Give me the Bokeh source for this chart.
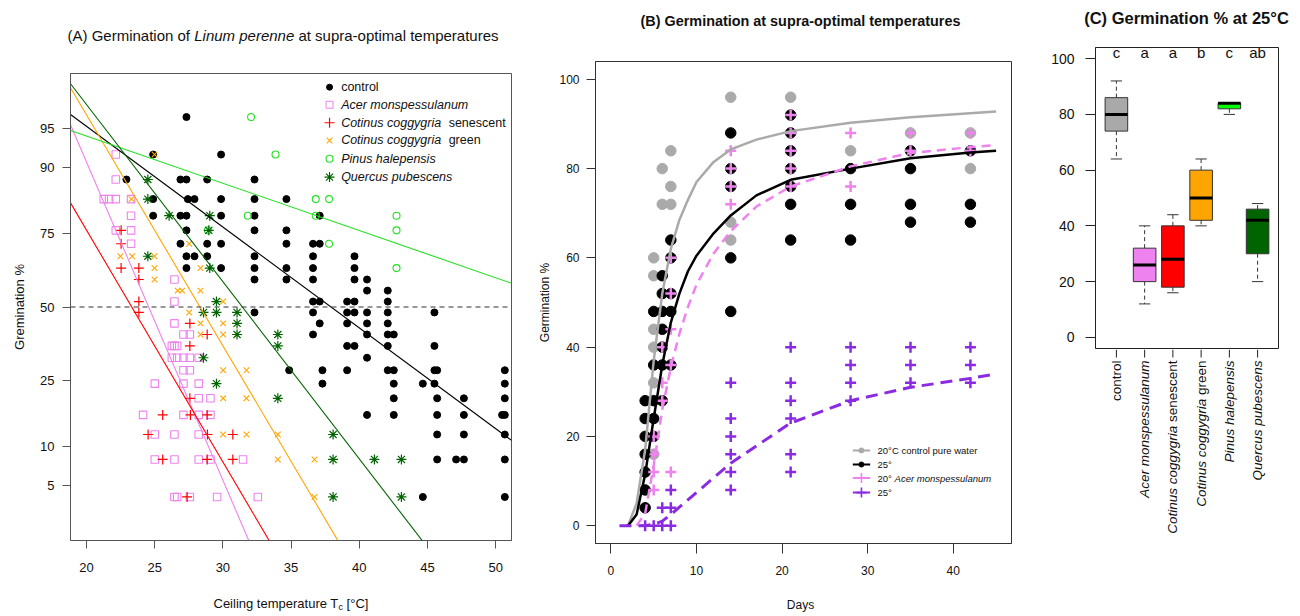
import math
from statistics import NormalDist
from bokeh.plotting import figure
from bokeh.layouts import row, column
from bokeh.models import Label, FixedTicker, Span, Range1d
from bokeh.embed import file_html
from bokeh.resources import INLINE

FONT = "Liberation Sans"
_nd = NormalDist()


def probit(p):
    return _nd.inv_cdf(p / 100.0)


# ======================= Panel A data =======================
# germination % : ceiling temperatures (deg C)
ctrl_rows = {
    96: [27.33], 92: [24.89, 29.87],
    88: [22.93, 26.89, 27.33, 28.85, 32.32],
    84: [24.89, 27.43, 27.92, 29.87, 32.32, 34.66],
    80: [24.89, 26.89, 27.33, 29.87, 32.32, 37.10],
    76: [27.33, 32.32, 34.66],
    72: [26.89, 28.85, 29.87, 34.66, 36.61, 37.10],
    68: [27.33, 27.92, 28.85, 32.32, 36.61, 39.65],
    64: [27.33, 29.87, 32.32, 34.66, 36.61, 39.65],
    60: [32.32, 34.66, 36.61, 39.65, 40.57],
    56: [40.57, 42.09],
    52: [36.61, 37.10, 39.11, 39.65, 42.09],
    48: [32.32, 36.61, 39.11, 39.65, 40.57, 42.09, 45.51],
    44: [37.10, 39.11, 40.57, 42.09],
    40: [36.61, 40.57, 42.09, 42.53],
    36: [39.11, 39.65, 42.09, 45.51],
    32: [40.57],
    28: [34.86, 37.30, 39.11, 42.09, 42.53, 45.51, 45.71, 50.67],
    24: [37.30, 42.53, 44.66, 45.51, 50.67],
    20: [42.53, 45.71, 47.67, 50.67],
    16: [40.57, 42.53, 45.71, 47.67, 50.47, 50.67],
    12: [45.71, 47.67, 50.67],
    8: [45.71, 47.10, 47.67, 50.67],
    4: [44.66, 50.67],
}
acer_rows = {
    92: [22.15], 88: [22.15], 84: [21.27, 21.66, 22.15, 23.27], 80: [23.27],
    76: [22.15, 23.27], 72: [23.27], 60: [26.45], 52: [26.45], 44: [26.45],
    40: [27.11, 27.58], 36: [26.26, 26.45, 26.65],
    32: [26.26, 26.65, 27.11, 27.58, 28.23], 28: [27.11, 27.58],
    24: [25.01, 27.11, 28.23], 20: [28.23, 29.09],
    16: [24.15, 27.11, 28.23, 29.09], 12: [25.01, 26.45, 28.23],
    8: [25.01, 26.45, 28.23, 29.09, 31.48],
    4: [26.45, 26.65, 27.58, 29.58, 32.56],
}
cotsen_rows = {
    76: [22.54], 72: [22.54], 64: [22.54, 23.84], 60: [23.84], 52: [23.84],
    48: [23.84], 44: [27.58], 40: [28.85], 36: [27.58], 20: [27.58],
    16: [25.59, 27.62, 28.85], 12: [24.52, 28.87, 30.73],
    8: [25.59, 28.85, 30.73], 4: [27.38],
}
cotgreen_rows = {
    92: [24.99], 84: [23.30], 72: [27.53], 68: [22.49, 23.35, 24.99],
    64: [24.99, 28.36], 60: [24.99], 56: [26.69, 27.01, 28.36], 52: [30.02],
    48: [27.53], 44: [28.36, 30.02], 40: [28.36, 30.02], 28: [30.02, 31.73],
    20: [30.02, 31.73], 12: [30.02, 31.73, 34.03], 8: [34.03, 36.72], 4: [36.72],
}
pinus_rows = {
    96: [32.07], 92: [33.86], 84: [36.81, 37.79], 80: [31.83, 36.81, 42.73],
    76: [28.90, 42.73], 72: [37.79], 64: [42.73],
}
quercus_rows = {
    88: [24.50], 84: [24.50], 80: [26.06, 29.04], 76: [28.97], 68: [24.50],
    64: [29.04], 52: [29.53], 48: [28.58, 29.53, 31.04], 44: [31.04],
    40: [31.04, 34.03], 36: [34.03], 32: [28.58], 24: [29.53], 20: [34.03],
    12: [38.08], 8: [38.08, 41.11, 43.09], 4: [38.08, 43.09],
}
# probit regression lines: temperature at 50 % and slope (probit units / deg C)
line_t50 = [37.93, 24.56, 23.32, 28.32, 56.19, 31.43]
line_slope = [-0.0929, -0.2933, -0.2137, -0.2129, -0.04355, -0.1633]
a_colors = ["#000000", "#EE82EE", "#FF0000", "#FFA500", "#22E022", "#006400"]
a_ticks_pct = [5, 10, 25, 50, 75, 90, 95]
a_xticks = [20, 25, 30, 35, 40, 45, 50]

# ======================= Panel B data =======================
gray_pts = {5: [60, 56, 44, 40, 32, 16], 6: [80, 72], 7: [84, 76, 72],
            14: [96, 68, 64], 21: [96], 28: [84], 35: [88], 42: [88, 80]}
black_pts = {4: [28, 24, 20, 16, 12, 8, 4], 5: [48, 36, 28, 24, 20],
             6: [56, 52, 48, 44, 40, 36, 28], 7: [64, 60, 52, 48, 36],
             14: [88, 80, 76, 60, 48], 21: [92, 88, 84, 80, 76, 72, 64],
             28: [80, 72, 64], 35: [84, 80, 72, 68], 42: [84, 72, 68]}
pink_pts = {5: [20, 16, 12, 8], 6: [40, 32, 28], 7: [60, 52, 44, 36, 12],
            14: [84, 80, 76, 72], 21: [92, 88, 84, 80, 76], 28: [88, 76],
            35: [88, 84], 42: [88, 84]}
purple_pts = {4: [0], 5: [0], 6: [4, 0], 7: [8, 4, 0],
              14: [32, 24, 20, 16, 12, 8], 21: [40, 32, 28, 24, 16, 12],
              28: [40, 36, 32, 28], 35: [40, 36, 32], 42: [40, 36, 32]}

gray_curve_day = [2, 3, 4, 5, 6, 7, 8, 9, 10, 12, 14, 17, 21, 28, 35, 45]
gray_curve_val = [0, 5, 17, 37, 52, 62, 68.5, 73, 77, 81.5, 84.3, 86.5, 88.4, 90.3, 91.5, 92.8]
black_curve_day = [2, 3, 4, 5, 6, 7, 8, 9, 10, 12, 14, 17, 21, 28, 35, 42, 45]
black_curve_val = [0, 2.5, 11.5, 24, 36, 45.5, 52, 57, 60.5, 65.5, 69.5, 74, 77.5, 80, 82.3, 83.6, 84]
pink_curve_day = [3, 4, 5, 6, 7, 8, 9, 10, 12, 14, 17, 21, 28, 35, 42, 45]
pink_curve_val = [0, 2.7, 13.5, 26, 35.5, 43, 49, 54, 61, 66, 71.5, 76, 80.5, 83.5, 84.8, 85.3]
purple_curve_day = [1, 4, 5, 6, 7, 14, 21, 28, 35, 42, 45]
purple_curve_val = [0, 0, 0.3, 1, 2.5, 14, 23, 28, 31, 33, 34]
b_xticks = [0, 10, 20, 30, 40]
b_yticks = [0, 20, 40, 60, 80, 100]

# ======================= Panel C data =======================
box_pos = [1, 2, 3, 4, 5, 6]
box_lo = [64, 12, 16, 40, 80, 20]
box_q1 = [74, 20, 18, 42, 82, 30]
box_med = [80, 26, 28, 50, 84, 42]
box_q3 = [86, 32, 40, 60, 84, 46]
box_hi = [92, 40, 44, 64, 84, 48]
box_colors = ["#A9A9A9", "#EE82EE", "#FF0000", "#FFA500", "#00FF00", "#006400"]
box_letters = ["c", "a", "a", "b", "c", "ab"]
c_yticks = [0, 20, 40, 60, 80, 100]


def flat_rows(rows):
    xs, ys = [], []
    for g, ts in rows.items():
        for t in ts:
            xs.append(t)
            ys.append(probit(g))
    return xs, ys


def flat_pts(pts):
    xs, ys = [], []
    for d, vs in pts.items():
        for v in vs:
            xs.append(d)
            ys.append(v)
    return xs, ys


def no_align(p):
    try:
        p.frame_align = False
    except Exception:
        pass


def style(p, outline, tick_font, tick_out):
    p.xgrid.visible = False
    p.ygrid.visible = False
    p.outline_line_color = outline
    p.outline_line_width = 1
    p.background_fill_color = "white"
    p.border_fill_color = "white"
    for ax in list(p.xaxis) + list(p.yaxis):
        ax.axis_line_color = outline
        ax.major_tick_line_color = outline
        ax.major_tick_out = tick_out
        ax.major_tick_in = 0
        ax.minor_tick_line_color = None
        ax.major_label_text_font = FONT
        ax.major_label_text_font_size = tick_font
        ax.major_label_text_color = "#111111"
        ax.axis_label_text_font = FONT
        ax.axis_label_text_font_style = "normal"
        ax.axis_label_text_color = "#111111"
    no_align(p)


def text_fig(w, h):
    f = figure(frame_width=w, frame_height=h, min_border=0, min_border_left=0,
               min_border_right=0, min_border_top=0, min_border_bottom=0,
               x_range=Range1d(0, w), y_range=Range1d(0, h), x_axis_location=None,
               y_axis_location=None, output_backend="svg", toolbar_location=None, title=None)
    f.grid.visible = False
    f.outline_line_color = None
    no_align(f)
    return f


def lab(p, x, y, text, size, style_="normal", align="left", baseline="middle",
        angle=0.0, x_offset=0, color="#111111"):
    p.add_layout(Label(x=x, y=y, text=text, text_font=FONT,
                       text_font_size=f"{size}px", text_font_style=style_,
                       text_align=align, text_baseline=baseline, angle=angle,
                       x_offset=x_offset, text_color=color))


# ======================= Panel A =======================
AX0, AX1 = 18.83, 51.16
pA = figure(frame_width=441, frame_height=467, min_border_left=70, min_border_right=24,
            min_border_top=5, min_border_bottom=40, x_range=Range1d(AX0, AX1),
            y_range=Range1d(-2.152, 2.152), output_backend="svg", toolbar_location=None)
style(pA, "#555555", "13px", 8)
pA.xaxis[0].ticker = FixedTicker(ticks=a_xticks)
pA.xaxis[0].major_label_standoff = 14
ytk = [probit(v) for v in a_ticks_pct]
pA.yaxis[0].ticker = FixedTicker(ticks=ytk)
pA.yaxis[0].major_label_overrides = {t: str(v) for t, v in zip(ytk, a_ticks_pct)}
pA.yaxis[0].major_label_standoff = 8
pA.yaxis[0].axis_label = "Gremination %"
pA.yaxis[0].axis_label_text_font_size = "13px"
pA.yaxis[0].axis_label_standoff = 10

pA.add_layout(Span(location=0, dimension="width", line_color="#333333",
                   line_dash="5 4", line_width=1))

x, y = flat_rows(ctrl_rows)
pA.scatter(x, y, marker="circle", size=7, fill_color="black", line_color="black")
x, y = flat_rows(acer_rows)
pA.scatter(x, y, marker="square", size=7.5, fill_alpha=0, line_color="#EE82EE", line_width=1.1)
x, y = flat_rows(cotsen_rows)
pA.scatter(x, y, marker="cross", size=10, line_color="#FF0000", line_width=1.2)
x, y = flat_rows(cotgreen_rows)
pA.scatter(x, y, marker="x", size=8, line_color="#FFA500", line_width=1.1)
x, y = flat_rows(pinus_rows)
pA.scatter(x, y, marker="circle", size=7, fill_alpha=0, line_color="#22E022", line_width=1.1)
x, y = flat_rows(quercus_rows)
pA.scatter(x, y, marker="asterisk", size=10, line_color="#006400", line_width=1.2)

for t50, sl, col in zip(line_t50, line_slope, a_colors):
    pA.line([AX0, AX1], [sl * (AX0 - t50), sl * (AX1 - t50)], line_color=col, line_width=1.1)

# legend A
LEG_FS = 12.5
leg_mx, leg_tx = 37.82, 38.67
leg_y = [2.026, 1.864, 1.698, 1.535, 1.366, 1.197]
pA.scatter([leg_mx], [leg_y[0]], marker="circle", size=6, fill_color="black", line_color="black")
pA.scatter([leg_mx], [leg_y[1]], marker="square", size=7, fill_alpha=0, line_color="#EE82EE")
pA.scatter([leg_mx], [leg_y[2]], marker="cross", size=10, line_color="#FF0000", line_width=1.2)
pA.scatter([leg_mx], [leg_y[3]], marker="x", size=8, line_color="#FFA500", line_width=1.1)
pA.scatter([leg_mx], [leg_y[4]], marker="circle", size=7, fill_alpha=0, line_color="#22E022", line_width=1.1)
pA.scatter([leg_mx], [leg_y[5]], marker="asterisk", size=10, line_color="#006400", line_width=1.2)
cot_w = 8.6 * LEG_FS
lab(pA, leg_tx, leg_y[0], "control", LEG_FS)
lab(pA, leg_tx, leg_y[1], "Acer monspessulanum", LEG_FS, "italic")
lab(pA, leg_tx, leg_y[2], "Cotinus coggygria", LEG_FS, "italic")
lab(pA, leg_tx, leg_y[2], "senescent", LEG_FS, x_offset=cot_w)
lab(pA, leg_tx, leg_y[3], "Cotinus coggygria", LEG_FS, "italic")
lab(pA, leg_tx, leg_y[3], "green", LEG_FS, x_offset=cot_w)
lab(pA, leg_tx, leg_y[4], "Pinus halepensis", LEG_FS, "italic")
lab(pA, leg_tx, leg_y[5], "Quercus pubescens", LEG_FS, "italic")

# title strip A (pixel coordinates)
A_W = 535
tA = text_fig(A_W, 68)
lab(tA, 67, 33, "(A) Germination of", 15)
lab(tA, 67 + 8.447 * 15, 33, "Linum perenne", 15, "italic")
lab(tA, 67 + (8.447 + 6.67 + 0.278) * 15, 33, "at supra-optimal temperatures", 15)

# x-label strip A
bA = text_fig(A_W, 36)
lab(bA, 213, 13, "Ceiling temperature T", 13)
lab(bA, 213 + 9.614 * 13, 10, "c", 9)
lab(bA, 213 + 9.614 * 13 + 4.5 + 3.6, 13, "[°C]", 13)

# ======================= Panel B =======================
pB = figure(frame_width=416, frame_height=482, min_border_left=57, min_border_right=22,
            min_border_top=8, min_border_bottom=40, x_range=Range1d(-1.8, 46.8),
            y_range=Range1d(-4, 104), output_backend="svg", toolbar_location=None)
style(pB, "#333333", "12px", 9)
pB.xaxis[0].ticker = FixedTicker(ticks=b_xticks)
pB.xaxis[0].major_tick_out = 10
pB.xaxis[0].major_label_standoff = 12
pB.yaxis[0].ticker = FixedTicker(ticks=b_yticks)
pB.yaxis[0].major_label_standoff = 7
pB.yaxis[0].axis_label = "Germination %"
pB.yaxis[0].axis_label_text_font_size = "12px"
pB.yaxis[0].axis_label_standoff = 4

x, y = flat_pts(gray_pts)
pB.scatter(x, y, marker="circle", size=10.5, fill_color="#AAAAAA", line_color="#AAAAAA")
x, y = flat_pts(black_pts)
pB.scatter(x, y, marker="circle", size=10.5, fill_color="black", line_color="black")
x, y = flat_pts(pink_pts)
pB.scatter(x, y, marker="cross", size=11, line_color="#EE82EE", line_width=2.5)
x, y = flat_pts(purple_pts)
pB.scatter(x, y, marker="cross", size=11, line_color="#8A2BE2", line_width=2.5)

pB.line(gray_curve_day, gray_curve_val, line_color="#AAAAAA", line_width=2.5)
pB.line(black_curve_day, black_curve_val, line_color="black", line_width=2.5)
pB.line(pink_curve_day, pink_curve_val, line_color="#EE82EE", line_width=2.5, line_dash="9 6")
pB.line(purple_curve_day, purple_curve_val, line_color="#8A2BE2", line_width=3, line_dash="12 7")

# legend B
lbx0, lbx1, lbm, lbt = 28.26, 30.29, 29.27, 31.15
lby = [16.85, 13.7, 10.65, 7.4]
leg_cols = ["#AAAAAA", "black", "#EE82EE", "#8A2BE2"]
pB.segment([lbx0] * 4, lby, [lbx1] * 4, lby, line_color=leg_cols, line_width=2)
pB.scatter([lbm, lbm], lby[:2], marker="circle", size=5, fill_color=leg_cols[:2], line_color=leg_cols[:2])
pB.scatter([lbm, lbm], lby[2:], marker="cross", size=10, line_color=leg_cols[2:], line_width=1.6)
lab(pB, lbt, lby[0], "20°C control pure water", 9.5)
lab(pB, lbt, lby[1], "25°", 9.5)
lab(pB, lbt, lby[2], "20°", 9.5)
lab(pB, lbt, lby[2], "Acer monspessulanum", 9.5, "italic", x_offset=17)
lab(pB, lbt, lby[3], "25°", 9.5)

tB = text_fig(495, 53)
lab(tB, 265, 33, "(B) Germination at supra-optimal temperatures", 14.4, "bold", align="center")
bB = text_fig(495, 33)
lab(bB, 265, 12, "Days", 12, align="center")

# ======================= Panel C =======================
CXR = Range1d(0.26, 6.74)
pC = figure(frame_width=183, frame_height=301, min_border_left=62, min_border_right=17,
            min_border_top=9, min_border_bottom=1, x_range=CXR, x_axis_location=None,
            y_range=Range1d(-4, 104), output_backend="svg", toolbar_location=None)
style(pC, "#222222", "14px", 10)
pC.yaxis[0].ticker = FixedTicker(ticks=c_yticks)
pC.yaxis[0].major_label_standoff = 11

half = 0.4
cap = 0.2
pC.segment(box_pos, box_q3, box_pos, box_hi, line_color="#333333", line_dash="4 3", line_width=1)
pC.segment(box_pos, box_q1, box_pos, box_lo, line_color="#333333", line_dash="4 3", line_width=1)
pC.segment([p - cap for p in box_pos], box_hi, [p + cap for p in box_pos], box_hi, line_color="#333333", line_width=1)
pC.segment([p - cap for p in box_pos], box_lo, [p + cap for p in box_pos], box_lo, line_color="#333333", line_width=1)
pC.quad(left=[p - half for p in box_pos], right=[p + half for p in box_pos], bottom=box_q1,
        top=box_q3, fill_color=box_colors, line_color="#333333", line_width=1)
pC.segment([p - half for p in box_pos], box_med, [p + half for p in box_pos], box_med,
           line_color="black", line_width=3)

for pos, letter in zip(box_pos, box_letters):
    lab(pC, pos, 102.3, letter, 15, align="center")

tC = text_fig(262, 38)
lab(tC, 153, 21, "(C) Germination % at 25°C", 16.5, "bold", align="center")

# category strip below C: ticks + rotated category names (x shares panel C's scale)
BCH = 267
bC = figure(frame_width=183, frame_height=BCH, min_border_left=62, min_border_right=17,
            min_border_top=0, min_border_bottom=0, x_range=CXR, y_range=Range1d(0, BCH),
            x_axis_location=None, y_axis_location=None, output_backend="svg",
            toolbar_location=None, title=None)
bC.grid.visible = False
bC.outline_line_color = None
no_align(bC)
bC.segment(box_pos, [BCH] * 6, box_pos, [BCH - 8] * 6, line_color="#222222", line_width=1)
rot = math.pi / 2
CFS = 13.5
top_y = BCH - 11
lab(bC, 1, top_y, "control", CFS, align="right", angle=rot)
lab(bC, 2, top_y, "Acer monspessulanum", CFS, "italic", align="right", angle=rot)
lab(bC, 3, top_y, "senescent", CFS, align="right", angle=rot)
lab(bC, 3, top_y - 4.836 * CFS, "Cotinus coggygria", CFS, "italic", align="right", angle=rot)
lab(bC, 4, top_y, "green", CFS, align="right", angle=rot)
lab(bC, 4, top_y - 2.835 * CFS, "Cotinus coggygria", CFS, "italic", align="right", angle=rot)
lab(bC, 5, top_y, "Pinus halepensis", CFS, "italic", align="right", angle=rot)
lab(bC, 6, top_y, "Quercus pubescens", CFS, "italic", align="right", angle=rot)

layout = row(column(tA, pA, bA), column(tB, pB, bB), column(tC, pC, bC))
open("out.html", "w").write(file_html(layout, INLINE, title="Germination"))
